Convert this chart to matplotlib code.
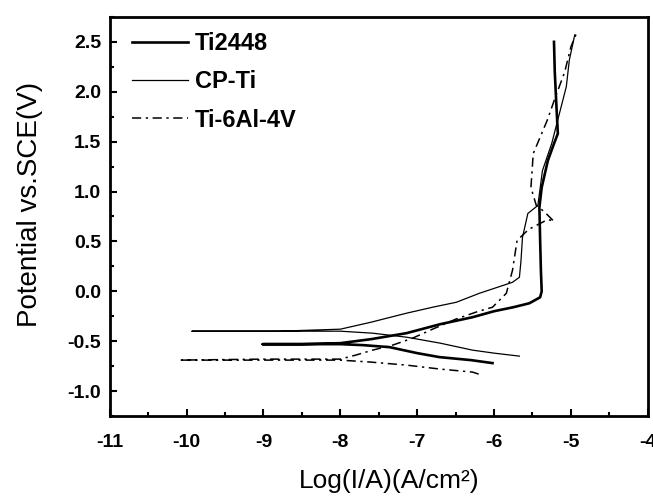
import matplotlib
matplotlib.use("Agg")
import matplotlib.pyplot as plt
from matplotlib.ticker import MultipleLocator

# Ti2448 polarization curve (log current density, potential)
ti2448_logi = [-6.02, -6.3, -6.71, -7.0, -7.36, -7.7, -8.0, -8.5, -9.01, -8.5, -8.0,
               -7.6, -7.14, -6.7, -6.28, -6.0, -5.75, -5.54, -5.40, -5.38, -5.39,
               -5.40, -5.41, -5.38, -5.30, -5.22, -5.17, -5.19, -5.21, -5.22]
ti2448_e = [-0.72, -0.69, -0.66, -0.62, -0.56, -0.54, -0.53, -0.53, -0.53, -0.53, -0.52,
            -0.48, -0.42, -0.33, -0.26, -0.20, -0.16, -0.12, -0.06, 0.0, 0.2,
            0.5, 0.84, 1.04, 1.31, 1.48, 1.58, 1.88, 2.2, 2.50]

# CP-Ti
cpti_logi = [-5.67, -6.0, -6.28, -6.7, -7.14, -7.58, -8.0, -8.8, -9.93, -8.8, -8.0,
             -7.6, -7.14, -6.8, -6.49, -6.19, -5.76, -5.67, -5.65, -5.63, -5.56,
             -5.43, -5.37, -5.25, -5.15, -5.06, -5.02, -4.95]
cpti_e = [-0.65, -0.62, -0.59, -0.52, -0.46, -0.42, -0.40, -0.40, -0.40, -0.40, -0.38,
          -0.31, -0.22, -0.16, -0.11, -0.02, 0.09, 0.14, 0.30, 0.54, 0.78,
          0.86, 1.21, 1.48, 1.78, 2.05, 2.32, 2.57]

# Ti-6Al-4V
ti64_logi = [-6.2, -6.28, -6.7, -7.14, -7.6, -8.0, -9.0, -10.1, -9.0, -8.0, -7.8,
             -7.58, -7.32, -7.06, -6.8, -6.5, -6.2, -6.02, -5.84, -5.76, -5.70,
             -5.55, -5.30, -5.22, -5.35, -5.45, -5.52, -5.49, -5.31, -5.2, -5.08,
             -5.0, -4.93]
ti64_e = [-0.83, -0.81, -0.78, -0.74, -0.71, -0.69, -0.69, -0.69, -0.68, -0.68, -0.64,
          -0.59, -0.54, -0.47, -0.38, -0.28, -0.20, -0.16, -0.02, 0.21, 0.51,
          0.62, 0.72, 0.70, 0.80, 0.86, 1.04, 1.38, 1.71, 1.95, 2.2,
          2.45, 2.58]

x_ticks = [-11, -10, -9, -8, -7, -6, -5, -4]
y_ticks = [-1.0, -0.5, 0.0, 0.5, 1.0, 1.5, 2.0, 2.5]

plt.rcParams['font.family'] = ['Liberation Sans', 'DejaVu Sans']

fig = plt.figure(figsize=(6.53, 4.97), dpi=100)
ax = fig.add_axes([0.168, 0.163, 0.824, 0.803])

ax.plot(ti2448_logi, ti2448_e, color='black', lw=1.9, label='Ti2448')
ax.plot(cpti_logi, cpti_e, color='black', lw=0.9, label='CP-Ti')
ax.plot(ti64_logi, ti64_e, color='black', lw=1.1, linestyle=(0, (6, 3, 1.5, 3)),
        label='Ti-6Al-4V')

ax.set_xlim(-11, -4)
ax.set_ylim(-1.25, 2.75)
ax.set_xticks(x_ticks)
ax.set_yticks(y_ticks)
ax.set_xticklabels([f"{v:d}" for v in x_ticks], fontweight='bold', fontsize=14)
ax.set_yticklabels([f"{v:.1f}" for v in y_ticks], fontweight='bold', fontsize=14)
ax.xaxis.set_minor_locator(MultipleLocator(0.5))
ax.yaxis.set_minor_locator(MultipleLocator(0.25))
ax.tick_params(which='both', direction='in', top=False, right=False, width=1.5)
ax.tick_params(which='major', length=5)
ax.tick_params(which='minor', length=3)
ax.tick_params(axis='x', which='major', pad=13)
ax.tick_params(axis='y', which='major', pad=6)
for s in ax.spines.values():
    s.set_linewidth(2.0)

ax.set_xlabel('Log(I/A)(A/cm²)', fontsize=19, labelpad=13)
ax.xaxis.label.set_x(0.52)
ax.set_ylabel('Potential vs.SCE(V)', fontsize=20, labelpad=18)
ax.yaxis.label.set_y(0.53)

ax.legend(loc='upper left', bbox_to_anchor=(0.041, 0.962), frameon=False,
          prop={'weight': 'bold', 'size': 17}, handlelength=2.37,
          labelspacing=0.65, handletextpad=0.3, borderaxespad=0, borderpad=0)

fig.savefig('out.png', dpi=100)
